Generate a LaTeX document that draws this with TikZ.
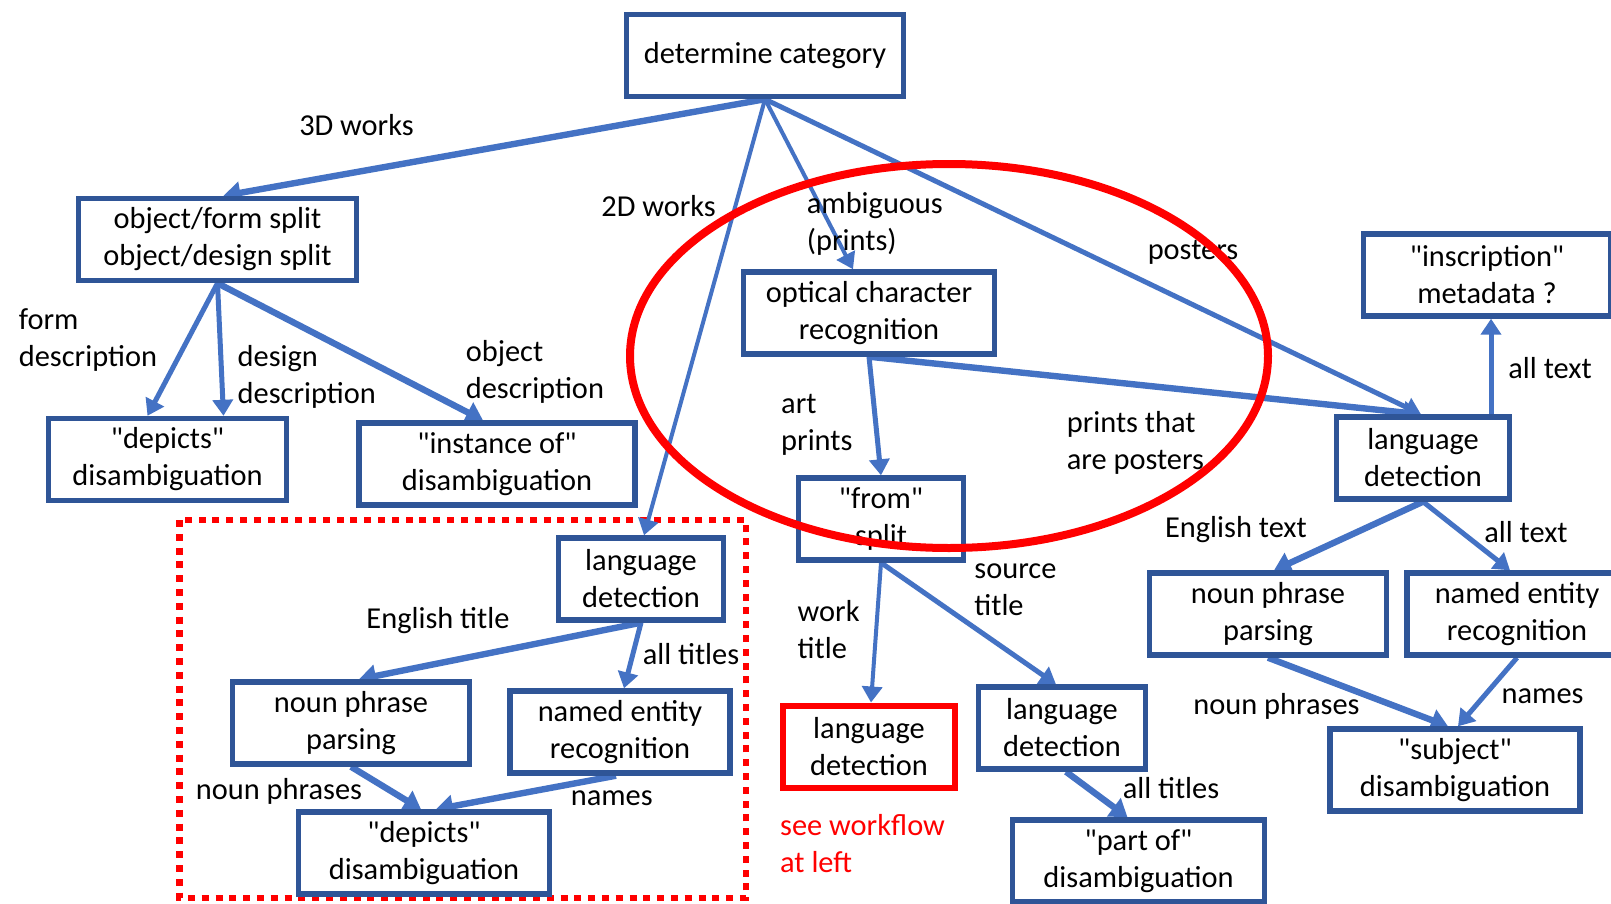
\documentclass[tikz,border=0pt]{standalone}
\usepackage{fontspec}
\setmainfont{Carlito}[Ligatures=TeXOff]
\usetikzlibrary{arrows.meta}
\definecolor{boxblue}{RGB}{47,85,151}
\definecolor{arrowblue}{RGB}{68,114,196}
\definecolor{hired}{RGB}{255,0,0}
\newcommand{\dq}{\symbol{34}}
\pgfdeclarelayer{bglayer}
\pgfdeclarelayer{arrowlayer}
\pgfdeclarelayer{toplayer}
\pgfsetlayers{bglayer,arrowlayer,main,toplayer}
\tikzset{
  box/.style={draw=boxblue, line width=2.7pt, fill=white, align=center, inner sep=0pt,
              minimum height=41pt, font=\fontsize{15.2}{18.5}\selectfont},
  redbox/.style={box, draw=hired, line width=3pt},
  flow/.style={draw=arrowblue, line width=2.5pt, -{Triangle[length=8pt,width=10pt]}},
  flowthin/.style={flow, line width=2pt},
  flowthick/.style={flow, line width=3.2pt, -{Triangle[length=8.5pt,width=11pt]}},
  lbl/.style={inner sep=0pt, align=left, font=\fontsize{15.2}{18.5}\selectfont},
}
\begin{document}
\begin{tikzpicture}[x=0.5pt,y=-0.5pt]
\useasboundingbox (0,0) rectangle (1611,904);
\clip (0,0) rectangle (1611,904);
\begin{pgfonlayer}{bglayer}
\fill[white] (0,0) rectangle (1611,904);
\draw[hired, line width=3.3pt, dash pattern=on 3.5pt off 3.4pt] (179.5,520) rectangle (746,898);
\end{pgfonlayer}

% boxes
\node[box, minimum width=138.7pt] (cat) at (765,55.5) {determine category};
\node[box, minimum width=138.9pt] (objsplit) at (217.5,239.5) {object/form split\\object/design split};
\node[box, minimum width=118.9pt] (depicts1) at (167.5,459.5) {\dq depicts\dq\\disambiguation};
\node[box, minimum width=137.9pt] (instof) at (497,464) {\dq instance of\dq\\disambiguation};
\node[box, minimum width=125.4pt] (ocr) at (869,313) {optical character\\recognition};
\node[box, minimum width=123.4pt] (inscr) at (1487,275) {\dq inscription\dq\\metadata ?};
\node[box, minimum width=86.4pt] (langR) at (1423,458) {language\\detection};
\node[box, minimum width=82.4pt] (from) at (881,519) {\dq from\dq\\split};
\node[box, minimum width=82.4pt] (langM) at (641,579) {language\\detection};
\node[box, minimum width=118.4pt] (npL) at (351,723) {noun phrase\\parsing};
\node[box, minimum width=109.9pt] (nerL) at (620,732) {named entity\\recognition};
\node[box, minimum width=125.4pt] (depicts2) at (424,853) {\dq depicts\dq\\disambiguation};
\node[redbox, minimum width=86.4pt] (langRed) at (869,746.5) {language\\detection};
\node[box, minimum width=83.4pt] (langMM) at (1062,728) {language\\detection};
\node[box, minimum width=125.9pt] (partof) at (1138.5,861) {\dq part of\dq\\disambiguation};
\node[box, minimum width=118.4pt] (npR) at (1268,614) {noun phrase\\parsing};
\node[box, minimum width=109.9pt] (nerR) at (1517,614) {named entity\\recognition};
\node[box, minimum width=124.9pt] (subj) at (1455,770) {\dq subject\dq\\disambiguation};

% connectors
\begin{pgfonlayer}{arrowlayer}
\draw[flowthick] (cat.south) -- ([xshift=3pt]objsplit.north);
\draw[flowthin] (cat.south) -- ([xshift=1.5pt]langM.north);
\draw[flowthin] (cat.south) -- ([xshift=-8pt]ocr.north);
\draw[flow] (cat.south) -- ([xshift=-1pt]langR.north);
\draw[flow] (objsplit.south) -- ([xshift=-10pt]depicts1.north);
\draw[flow] (objsplit.south) -- ([xshift=28pt]depicts1.north);
\draw[flowthick] (objsplit.south) -- ([xshift=-7pt]instof.north);
\draw[flow] (ocr.south) -- (from.north);
\draw[flowthick] (ocr.south) -- ([xshift=-1pt]langR.north);
\draw[flow] ([xshift=34pt]langR.north) -- ([xshift=2pt]inscr.south);
\draw[flowthick] (langR.south) -- ([xshift=3pt]npR.north);
\draw[flow] (langR.south) -- ([xshift=-3.5pt]nerR.north);
\draw[flowthin] (from.south) -- ([xshift=1pt]langRed.north);
\draw[flow] (from.south) -- ([xshift=-3pt]langMM.north);
\draw[flowthick] ([xshift=2pt]langMM.south) -- ([xshift=-5.5pt]partof.north);
\draw[flowthick] (npR.south) -- ([xshift=-3.5pt]subj.north);
\draw[flow] (nerR.south) -- ([xshift=1.5pt]subj.north);
\draw[flowthick] (langM.south) -- ([xshift=4pt]npL.north);
\draw[flow] (langM.south) -- ([xshift=2pt]nerL.north);
\draw[flowthick] (npL.south) -- ([xshift=-1.5pt]depicts2.north);
\draw[flowthick] ([xshift=-2pt]nerL.south) -- ([xshift=6pt]depicts2.north);
\end{pgfonlayer}

% labels
\node[lbl] (l3d) at (356.5,125.5) {3D works};
\node[lbl] (l2d) at (658.6,206.5) {2D works};
\node[lbl, anchor=west] (lamb) at (806.5,224) {ambiguous\\(prints)};
\node[lbl] (lpost) at (1193,252.7) {posters};
\node[lbl, anchor=west] (lform) at (18.5,340) {form\\description};
\node[lbl, anchor=west] (ldesign) at (237.3,376.5) {design\\description};
\node[lbl, anchor=west] (lobj) at (465.4,372) {object\\description};
\node[lbl, anchor=west] (lart) at (780.8,424.8) {art\\prints};
\node[lbl, anchor=west] (lpp) at (1066.4,442.8) {prints that\\are posters};
\node[lbl, anchor=west] (lallup) at (1508,367.8) {all text};
\node[lbl] (lengtext) at (1236,530) {English text};
\node[lbl] (lalltext) at (1526,532) {all text};
\node[lbl, anchor=west] (lwork) at (797.3,629.3) {work\\title};
\node[lbl, anchor=west] (lsource) at (974,590.2) {source\\title};
\node[lbl] (lalltitR) at (1171,788) {all titles};
\node[lbl] (lnpR) at (1276.5,706.8) {noun phrases};
\node[lbl] (lnamesR) at (1542.6,696.6) {names};
\node[lbl] (lengtitle) at (438,620.5) {English title};
\node[lbl] (lalltitL) at (691,654.5) {all titles};
\node[lbl] (lnpL) at (279,791) {noun phrases};
\node[lbl] (lnamesL) at (611.8,798.3) {names};
\node[lbl, anchor=west, text=hired] (lsee) at (779.8,843.5) {see workflow\\at left};

% red ellipse
\begin{pgfonlayer}{toplayer}
\draw[hired, line width=4pt] (949,356) ellipse [x radius=159.5pt, y radius=96pt];
\end{pgfonlayer}
\end{tikzpicture}
\end{document}
